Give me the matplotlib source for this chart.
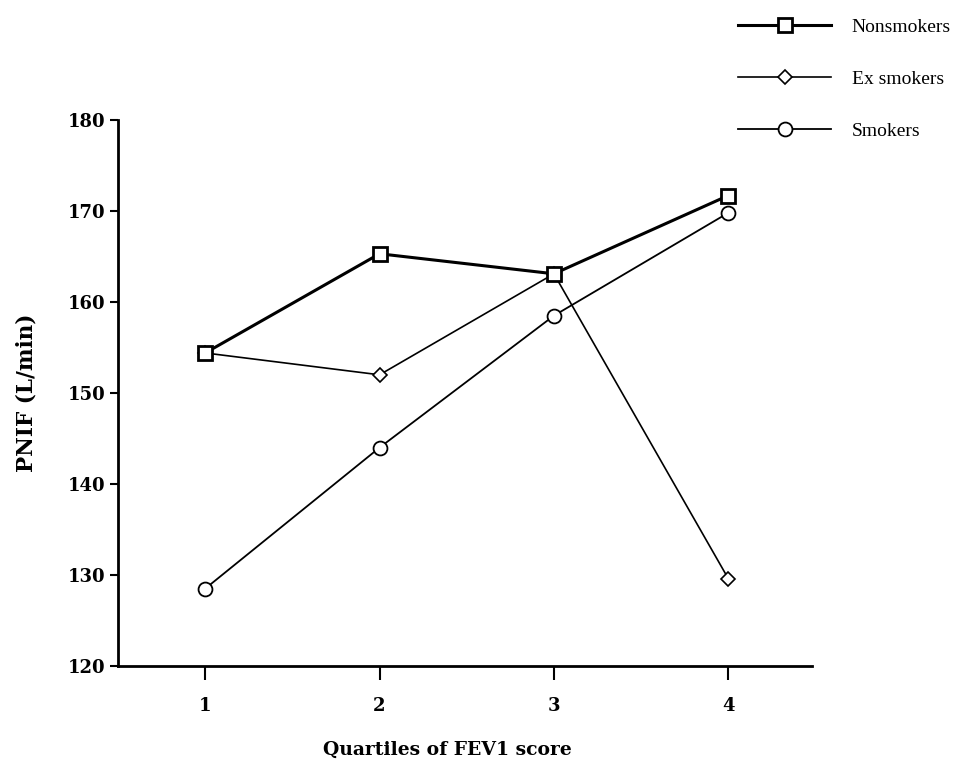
import matplotlib.pyplot as plt
import numpy as np

plt.rcParams['font.family'] = ['DejaVu Serif']

quartiles = [1, 2, 3, 4]
nonsmokers = [154.4, 165.3, 163.1, 171.7]
ex_smokers = [154.4, 152.0, 163.1, 129.6]
smokers = [128.5, 144.0, 158.5, 169.8]

y_ticks = [120, 130, 140, 150, 160, 170, 180]

fig = plt.figure(figsize=(9.56, 7.63), dpi=100)
ax = fig.add_axes([118/956, 1-666/763, (812-118)/956, (666-120)/763])

ax.plot(quartiles, smokers, color='black', lw=1.3, marker='o', ms=10,
        mfc='white', mec='black', mew=1.3, label='Smokers', zorder=2)
ax.plot(quartiles, ex_smokers, color='black', lw=1.2, marker='D', ms=7.5,
        mfc='white', mec='black', mew=1.2, label='Ex smokers', zorder=3)
ax.plot(quartiles, nonsmokers, color='black', lw=2.2, marker='s', ms=10,
        mfc='white', mec='black', mew=2.0, label='Nonsmokers', zorder=4)

ax.set_xlim(0.5, 4.48)
ax.set_ylim(120, 180)
ax.set_xticks(quartiles)
ax.set_yticks(y_ticks)

for s in ['top', 'right']:
    ax.spines[s].set_visible(False)
ax.spines['left'].set_linewidth(2)
ax.spines['bottom'].set_linewidth(2)
ax.tick_params(axis='y', direction='out', length=6, width=1.5, labelsize=13, pad=3)
ax.tick_params(axis='x', direction='out', length=10, width=1.5, labelsize=13, pad=12)
for lab in ax.get_xticklabels() + ax.get_yticklabels():
    lab.set_fontweight('bold')

ax.set_xlabel('Quartiles of FEV1 score', fontsize=13.5, fontweight='bold')
ax.xaxis.set_label_coords((447-118)/694, (666-741)/546)
ax.set_ylabel('PNIF (L/min)', fontsize=15.5, fontweight='bold')
ax.yaxis.set_label_coords((37-118)/694, 0.5)

h, l = ax.get_legend_handles_labels()
order = [2, 1, 0]
fig.legend([h[i] for i in order], [l[i] for i in order],
           loc='upper left', bbox_to_anchor=(738/956, 1-18/763),
           frameon=False, prop={'family': 'Liberation Serif', 'size': 14},
           handlelength=4.8, handletextpad=1.05,
           labelspacing=1.78, borderpad=0, borderaxespad=0)

fig.savefig('out.png', dpi=100)
